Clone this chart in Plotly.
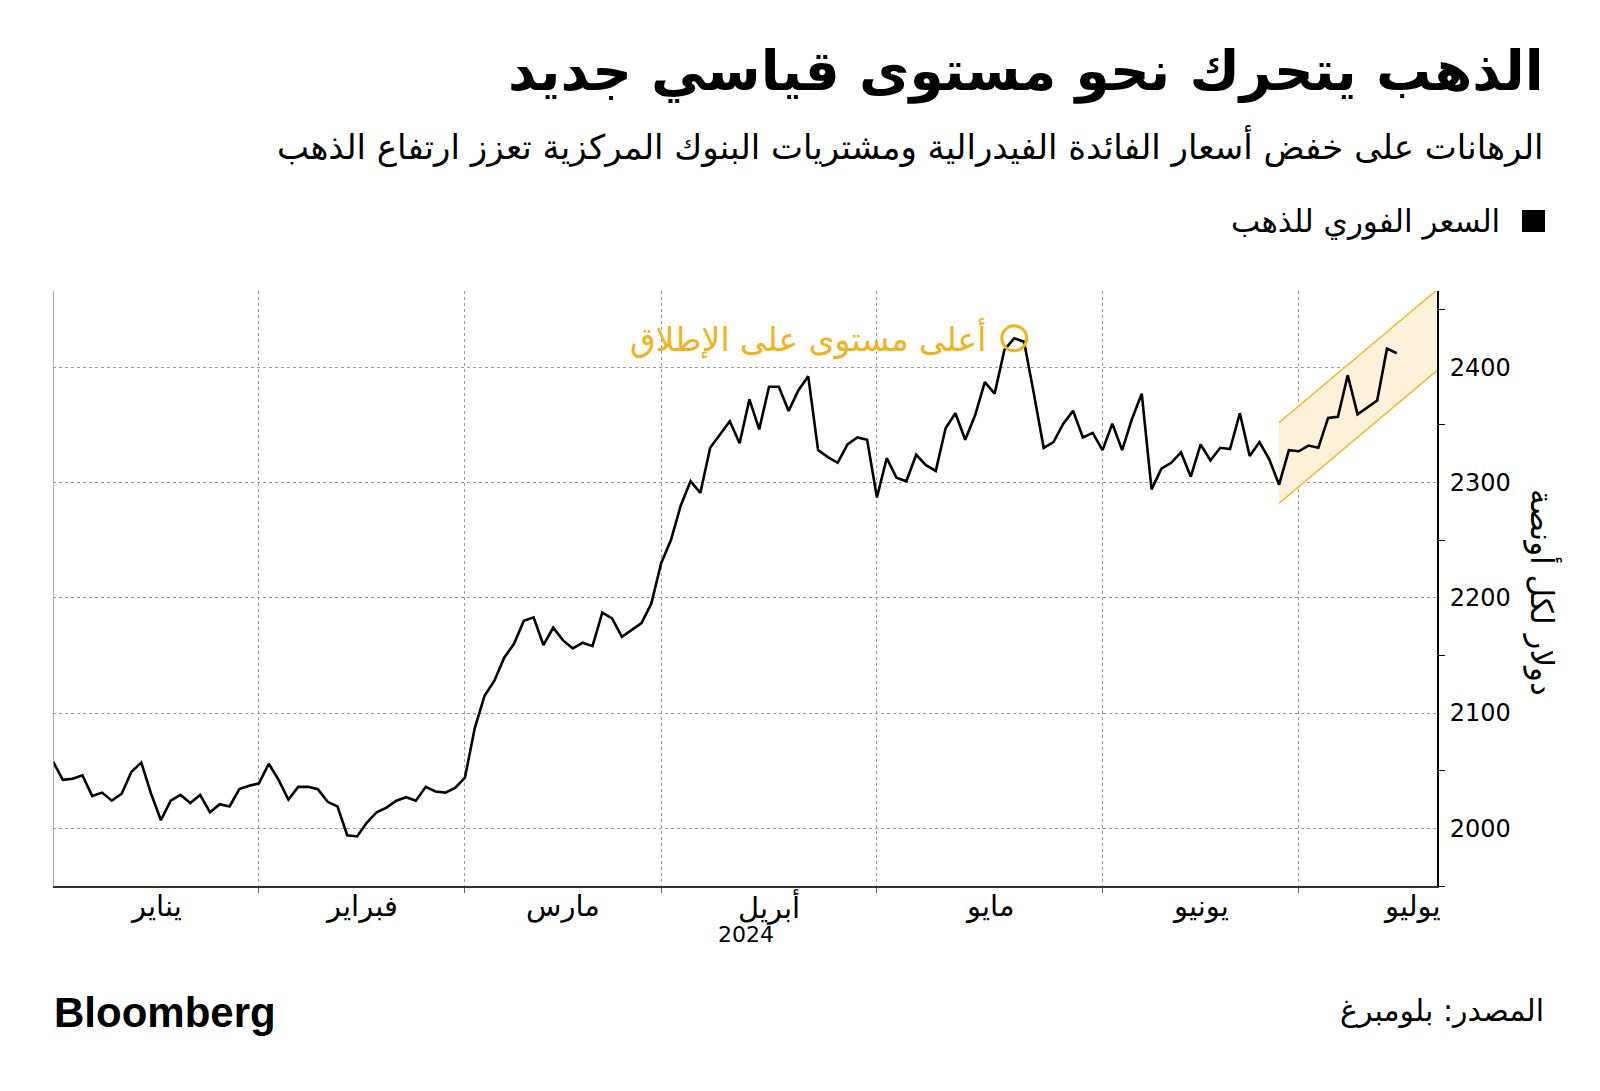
import pandas as pd
import plotly.graph_objects as go

# ---------------- data ----------------
jan = [2058, 2042, 2043, 2046, 2028, 2031, 2024, 2030, 2049, 2057, 2030,
       2007, 2024, 2029, 2022, 2029, 2014, 2021, 2019, 2034, 2037, 2039]
feb = [2056, 2042, 2025, 2036, 2036, 2034, 2023, 2019, 1994, 1993, 2005,
       2014, 2018, 2024, 2027, 2024, 2036, 2032, 2031, 2035, 2044]
mar = [2087, 2115, 2128, 2148, 2160, 2180, 2183, 2159, 2174, 2163, 2156,
       2161, 2158, 2187, 2182, 2166, 2172, 2178, 2195, 2230]
apr = [2250, 2280, 2301, 2291, 2330, 2341, 2353, 2334, 2372, 2346, 2383,
       2383, 2362, 2380, 2392, 2328, 2322, 2317, 2333, 2339, 2337, 2287]
may = [2321, 2304, 2301, 2324, 2315, 2310, 2347, 2360, 2337, 2358, 2387,
       2377, 2415, 2425, 2422, 2377, 2330, 2335, 2351, 2362, 2339, 2343, 2328]
jun = [2351, 2328, 2355, 2377, 2294, 2312, 2317, 2326, 2305, 2333, 2319,
       2330, 2329, 2360, 2323, 2335, 2320, 2298, 2328, 2327]
jul = [2332, 2330, 2356, 2357, 2393, 2359, 2365, 2371, 2416, 2412]
prices = jan + feb + mar + apr + may + jun + jul

trading_days = pd.bdate_range("2024-01-02", "2024-07-12")
trading_days = trading_days[trading_days != pd.Timestamp("2024-03-29")]
month_names = ["يناير", "فبراير", "مارس", "أبريل", "مايو", "يونيو", "يوليو"]
y_ticks = [2000, 2100, 2200, 2300, 2400]
y_minor = [1950, 2050, 2150, 2250, 2350, 2450]
y_range = [1950, 2466]
x_right = 141.1
# trend channel (start date, lower/upper values at start and at right edge)
channel_start = "2024-06-26"
channel_lower = [2282, 2397]
channel_upper = [2352, 2467]

title = "الذهب يتحرك نحو مستوى قياسي جديد"
subtitle = "الرهانات على خفض أسعار الفائدة الفيدرالية ومشتريات البنوك المركزية تعزز ارتفاع الذهب"
legend_label = "السعر الفوري للذهب"
peak_label = "أعلى مستوى على الإطلاق"
y_title = "دولار لكل أونصة"
source = "المصدر: بلومبرغ"
year_label = "2024"

# ---------------- derived positions ----------------
idx = list(range(len(prices)))
months = [d.month for d in trading_days]
last_idx = [max(i for i, m in enumerate(months) if m == mm) for mm in range(1, 7)]
jul_days = len(pd.bdate_range("2024-07-01", "2024-07-31"))
bounds = [0] + last_idx + [last_idx[-1] + jul_days]
centers = [(bounds[i] + bounds[i + 1]) / 2 for i in range(7)]
peak_i = max(idx, key=lambda i: prices[i])
ch_i = list(trading_days).index(pd.Timestamp(channel_start))

GOLD = "#F4B216"
AR = "DejaVu Sans"

L, R, T, B = 53, 1437, 291, 886
def px(x):
    return (x - L) / (R - L)
def py(y):
    return (B - y) / (B - T)

fig = go.Figure()

# channel band
fig.add_trace(go.Scatter(
    x=[ch_i, x_right, x_right, ch_i, ch_i],
    y=[channel_lower[0], channel_lower[1], channel_upper[1], channel_upper[0], channel_lower[0]],
    fill="toself", fillcolor="#FDF1DA", line=dict(width=0), mode="lines",
    hoverinfo="skip"))
for edge in (channel_lower, channel_upper):
    fig.add_trace(go.Scatter(x=[ch_i, x_right], y=edge, mode="lines",
                             line=dict(color=GOLD, width=1.3), hoverinfo="skip"))

# price line
fig.add_trace(go.Scatter(x=idx, y=prices, mode="lines",
                         line=dict(color="black", width=2.6)))

# peak marker
fig.add_trace(go.Scatter(x=[peak_i], y=[prices[peak_i]], mode="markers",
                         marker=dict(symbol="circle-open", size=25,
                                     line=dict(color=GOLD, width=3), color=GOLD),
                         cliponaxis=False))

# triangle major ticks on the right axis
fig.add_trace(go.Scatter(x=[x_right + 0.5] * len(y_ticks), y=y_ticks, mode="markers",
                         marker=dict(symbol="triangle-right", size=9, color="black"),
                         cliponaxis=False))

fig.update_layout(
    width=1600, height=1091, autosize=False,
    margin=dict(l=L, r=1600 - R, t=T, b=1091 - B),
    paper_bgcolor="white", plot_bgcolor="white",
    showlegend=False, hovermode=False,
    xaxis=dict(range=[0, x_right], tickmode="array", tickvals=bounds[1:7],
               showticklabels=False, showgrid=True, gridcolor="#9a9a9a",
               griddash="3px,3px", gridwidth=1.2, zeroline=False,
               showline=True, linecolor="#333", linewidth=1.5,
               ticks="outside", ticklen=5, tickcolor="#666", tickwidth=1),
    yaxis=dict(range=y_range, side="right", tickmode="array", tickvals=y_ticks,
               ticktext=[str(v) for v in y_ticks],
               showgrid=True, gridcolor="#9a9a9a", griddash="3px,3px", gridwidth=1.2,
               zeroline=False, showline=True, linecolor="black", linewidth=2,
               ticks="", ticklabelstandoff=6,
               tickfont=dict(family="DejaVu Sans", size=24, color="black"),
               minor=dict(tickvals=y_minor, ticks="outside", ticklen=6,
                          tickcolor="black", tickwidth=1.2, showgrid=False)),
)

# left grey axis line
fig.add_shape(type="line", xref="x", yref="paper", x0=0, x1=0, y0=0, y1=1,
              line=dict(color="#999", width=1.5))

ann = []
ann.append(dict(text=f"<b>{title}</b>", x=px(1546), y=py(71), xanchor="right",
                yanchor="middle", font=dict(family=AR, size=55, color="black")))
ann.append(dict(text=subtitle, x=px(1546), y=py(146), xanchor="right",
                yanchor="middle", font=dict(family=AR, size=34, color="black")))
ann.append(dict(text=legend_label, x=px(1502), y=py(221), xanchor="right",
                yanchor="middle", font=dict(family=AR, size=31, color="black")))
for name, c in zip(month_names, centers):
    ann.append(dict(text=name, x=c, xref="x", y=py(906), xanchor="center",
                    yanchor="middle", font=dict(family=AR, size=29, color="black")))
ann.append(dict(text=year_label, x=centers[3], xref="x", xshift=-23, y=py(934),
                xanchor="center", yanchor="middle",
                font=dict(family="DejaVu Sans", size=22, color="black")))
ann.append(dict(text=y_title, x=px(1543), y=py(592), textangle=90,
                xanchor="center", yanchor="middle",
                font=dict(family=AR, size=31, color="black")))
ann.append(dict(text="<b>Bloomberg</b>", x=px(52), y=py(1012), xanchor="left",
                yanchor="middle",
                font=dict(family="Liberation Sans", size=42, color="black")))
ann.append(dict(text=source, x=px(1546), y=py(1010), xanchor="right",
                yanchor="middle", font=dict(family=AR, size=30, color="black")))
ann.append(dict(text=peak_label, x=peak_i, xref="x", y=prices[peak_i], yref="y",
                xanchor="right", yanchor="middle", xshift=-26,
                font=dict(family=AR, size=33, color=GOLD)))
for a in ann:
    a.setdefault("xref", "paper")
    a.setdefault("yref", "paper")
    a["showarrow"] = False
fig.update_layout(annotations=ann)

# legend square
fig.add_shape(type="rect", xref="paper", yref="paper",
              x0=px(1522), x1=px(1545), y0=py(232), y1=py(210),
              fillcolor="black", line=dict(width=0))

fig.write_html("out.html")
